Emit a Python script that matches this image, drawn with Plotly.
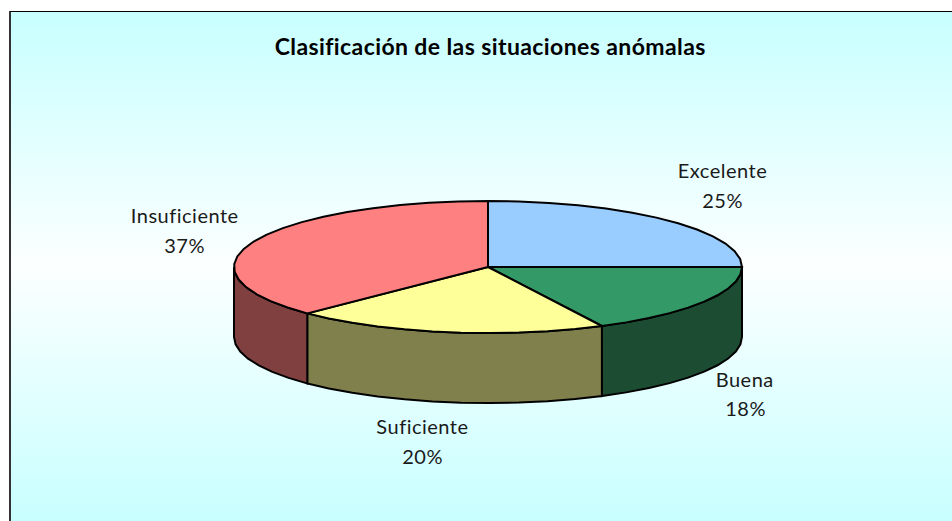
import math
import plotly.graph_objects as go

# Data
categories = ["Excelente", "Buena", "Suficiente", "Insuficiente"]
values = [25.0, 17.6, 20.0, 37.4]
title_text = "Clasificación de las situaciones anómalas"

# Style
top_colors = ["#99CCFF", "#339966", "#FFFF99", "#FF8080"]
side_colors = ["#4C6680", "#1C4D33", "#80804D", "#804040"]
CX, CY, RX, RY, DEPTH = 488, 267, 254, 66, 70
W, H = 952, 521
STEP = 7.0
label_pos = {
    "Excelente": (722, 170, 200),
    "Buena": (745, 379, 408),
    "Suficiente": (422, 426, 456),
    "Insuficiente": (184, 215, 245),
}


def pt(deg, dz=0.0):
    a = math.radians(deg)
    return CX + RX * math.sin(a), CY - RY * math.cos(a) + dz


def arc(a0, a1, dz=0.0):
    n = max(1, int(math.ceil((a1 - a0) / STEP)))
    return [pt(a0 + (a1 - a0) * i / n, dz) for i in range(n + 1)]


fig = go.Figure()

# Chart-area background with vertical gradient
fig.add_trace(go.Scatter(
    x=[11, W, W, 11, 11], y=[12, 12, H, H, 12], mode="lines", fill="toself",
    line=dict(width=0, color="rgba(0,0,0,0)"),
    fillgradient=dict(type="vertical", colorscale=[
        [0.0, "#C8FFFF"], [0.5, "#FCFFFF"], [1.0, "#C8FFFF"]
    ]),
    hoverinfo="skip", showlegend=False))

total = sum(values)
spans = []
acc = 0.0
for v in values:
    a0 = acc / total * 360
    acc += v
    spans.append((a0, acc / total * 360))

# Side walls (only the front half of the disc is visible)
for (a0, a1), col in zip(spans, side_colors):
    lo, hi = max(a0, 90), min(a1, 270)
    if lo >= hi:
        continue
    pts = arc(lo, hi) + arc(lo, hi, DEPTH)[::-1]
    pts.append(pts[0])
    fig.add_trace(go.Scatter(
        x=[p[0] for p in pts], y=[p[1] for p in pts], mode="lines", fill="toself",
        fillcolor=col, line=dict(color="#000000", width=2),
        hoverinfo="skip", showlegend=False))

# Top faces
for (a0, a1), col, name in zip(spans, top_colors, categories):
    pts = [(CX, CY)] + arc(a0, a1) + [(CX, CY)]
    fig.add_trace(go.Scatter(
        x=[p[0] for p in pts], y=[p[1] for p in pts], mode="lines", fill="toself",
        fillcolor=col, line=dict(color="#000000", width=2),
        name=name, hoverinfo="skip", showlegend=False))

# Frame: left and top edges only
fig.add_shape(type="line", x0=10, x1=10, y0=11, y1=H, line=dict(color="#333333", width=2), xref="x", yref="y")
fig.add_shape(type="line", x0=10, x1=W, y0=11.5, y1=11.5, line=dict(color="#000000", width=1), xref="x", yref="y")

FONT = "Lato"
fig.add_annotation(x=490, y=46, xref="x", yref="y", text=f"<b>{title_text}</b>", showarrow=False,
                   font=dict(family=FONT, size=23, color="#000000"), xanchor="center", yanchor="middle")
for name, v in zip(categories, values):
    lx, y1, y2 = label_pos[name]
    fig.add_annotation(x=lx, y=y1, xref="x", yref="y", text=name, showarrow=False,
                       font=dict(family=FONT, size=20, color="#1a1a1a"), xanchor="center", yanchor="middle")
    fig.add_annotation(x=lx, y=y2, xref="x", yref="y", text=f"{round(v)}%", showarrow=False,
                       font=dict(family=FONT, size=20, color="#1a1a1a"), xanchor="center", yanchor="middle")

fig.update_layout(
    width=W, height=H, margin=dict(l=0, r=0, t=0, b=0),
    paper_bgcolor="#FFFFFF", plot_bgcolor="#FFFFFF", showlegend=False,
    xaxis=dict(range=[0, W], visible=False, fixedrange=True),
    yaxis=dict(range=[H, 0], visible=False, fixedrange=True),
)
post = """
document.body.style.margin='0';
document.documentElement.style.overflow='hidden';
document.querySelectorAll('.annotation-text').forEach(function(t){
  var size=parseFloat(t.style.fontSize);
  t.style.letterSpacing=(size>21?'0.4px':'0.5px');
});
"""
fig.write_html("out.html", config={"displayModeBar": False}, post_script=post)
